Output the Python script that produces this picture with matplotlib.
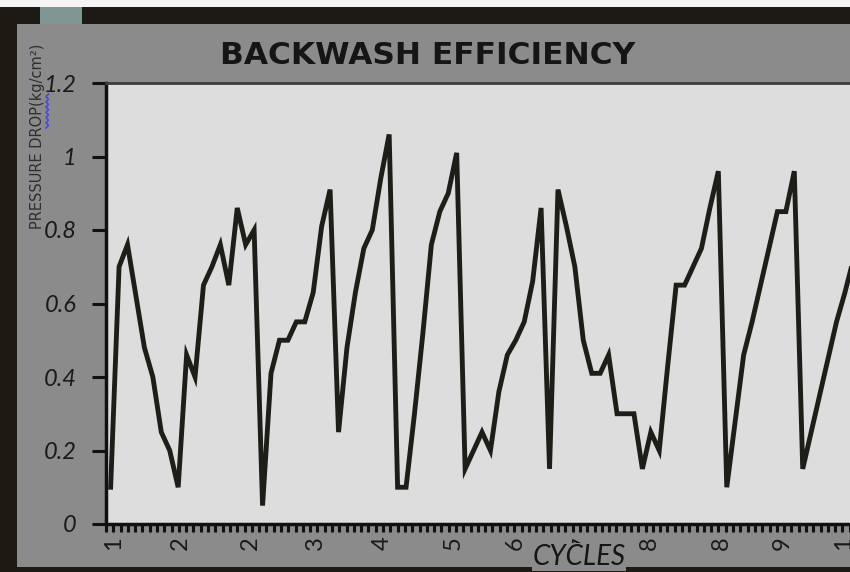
import matplotlib
matplotlib.use("Agg")
import matplotlib.pyplot as plt
from matplotlib.patches import Rectangle
from matplotlib.lines import Line2D
import numpy as np

# ---- data ----
values = [0.10, 0.70, 0.76, 0.62, 0.48, 0.40, 0.25, 0.20, 0.10, 0.46,
          0.40, 0.65, 0.70, 0.76, 0.65, 0.86, 0.76, 0.80, 0.05, 0.41,
          0.50, 0.50, 0.55, 0.55, 0.63, 0.81, 0.91, 0.25, 0.48, 0.63,
          0.75, 0.80, 0.94, 1.06, 0.10, 0.10, 0.30, 0.52, 0.76, 0.85,
          0.90, 1.01, 0.15, 0.20, 0.25, 0.20, 0.36, 0.46, 0.50, 0.55,
          0.66, 0.86, 0.15, 0.91, 0.81, 0.70, 0.50, 0.41, 0.41, 0.46,
          0.30, 0.30, 0.30, 0.15, 0.25, 0.20, 0.43, 0.65, 0.65, 0.70,
          0.75, 0.86, 0.96, 0.10, 0.28, 0.46, 0.55, 0.65, 0.75, 0.85,
          0.85, 0.96, 0.15, 0.25, 0.35, 0.45, 0.55, 0.63, 0.72]
xtick_labels = ["1", "2", "2", "3", "4", "5", "6", "7", "8", "8", "9", "1"]
xtick_pos = [0.36, 8.3, 16.6, 24.3, 32.2, 40.6, 47.9, 55.9, 63.8, 72.4, 79.6, 86.8]
yticks = [0, 0.2, 0.4, 0.6, 0.8, 1.0, 1.2]
ytick_labels = ["0", "0.2", "0.4", "0.6", "0.8", "1", "1.2"]

W, H = 850, 572
fig = plt.figure(figsize=(W / 100, H / 100), dpi=100)
fig.patch.set_facecolor("#1d1a14")

def fx(px):
    return px / W

def fy(py):
    return 1 - py / H

# white strip at very top
fig.patches.append(Rectangle((0, fy(7)), 1, 7 / H, transform=fig.transFigure,
                             facecolor="#f4f4f4", edgecolor="none", zorder=0))
# teal patch in top border
fig.patches.append(Rectangle((fx(40), fy(25)), 42 / W, 18 / H, transform=fig.transFigure,
                             facecolor="#7f9692", edgecolor="none", zorder=0))
# gray panel
fig.patches.append(Rectangle((fx(17), fy(567)), (W - 17) / W, (567 - 24) / H,
                             transform=fig.transFigure, facecolor="#8b8b8b",
                             edgecolor="none", zorder=0))

ax = fig.add_axes([fx(106), fy(524), (W - 106) / W, (524 - 83) / H])
ax.set_zorder(2)
ax.set_facecolor("#dddddd")
x = np.arange(len(values))
ax.plot(x, values, color="#1e1e18", linewidth=3.5, solid_joinstyle="miter")

ax.set_xlim(-0.55, 87.6)
ax.set_ylim(0, 1.2)

ax.spines["right"].set_visible(False)
ax.spines["top"].set_color("#3c3c38")
ax.spines["top"].set_linewidth(2)
ax.spines["left"].set_color("#111111")
ax.spines["left"].set_linewidth(2.5)
ax.spines["bottom"].set_color("#111111")
ax.spines["bottom"].set_linewidth(2.5)

ax.set_yticks(yticks)
ax.set_yticklabels(ytick_labels, fontsize=17, fontstyle="italic", family="Lato",
                   color="#1a1a1a")
ax.tick_params(axis="y", direction="out", length=10, width=2.2, color="#111111", pad=11)

ax.set_xticks(xtick_pos)
ax.set_xticklabels(xtick_labels, rotation=90, fontsize=17, family="Lato", color="#1a1a1a")
ax.tick_params(axis="x", which="major", length=0, pad=9)
minor = np.arange(-0.55, 87.6, 7.3 / 8.45)
ax.set_xticks(minor, minor=True)
ax.tick_params(axis="x", which="minor", direction="out", length=6, width=2.2, color="#111111")

fig.text(fx(428), fy(56), "BACKWASH EFFICIENCY", fontsize=22.5, fontweight="bold",
         family="DejaVu Sans", ha="center", va="center", color="#151515", zorder=3)
fig.text(fx(579), fy(557), "CYCLES", fontsize=20, fontstyle="italic", family="Lato",
         ha="center", va="center", color="#151515", zorder=5,
         bbox=dict(facecolor="#8b8b8b", edgecolor="none", pad=0.5))
fig.text(fx(38), fy(136), "PRESSURE DROP(kg/cm²)", fontsize=10.5, rotation=90,
         family="DejaVu Sans", ha="center", va="center", color="#2e2e2e", zorder=3)
# blue spell-check squiggle over the axis title
sq_y = np.linspace(fy(128), fy(94), 14)
sq_x = fx(46) + np.tile([0, 2.5 / W], 7)
fig.lines.append(Line2D(sq_x, sq_y, transform=fig.transFigure, color="#4a4ad8",
                        linewidth=1.2, zorder=4))

fig.savefig("out.png", dpi=100, facecolor=fig.get_facecolor())
